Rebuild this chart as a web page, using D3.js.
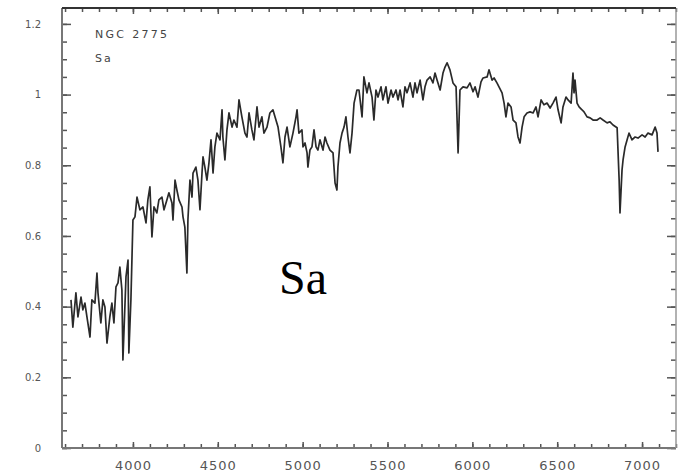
<!DOCTYPE html>
<html>
<head>
<meta charset="utf-8">
<script src="https://cdn.jsdelivr.net/npm/d3@7"></script>
<style>
  html, body { margin: 0; padding: 0; background: #fff; }
  svg { display: block; }
  .tick text { fill: #555; font-family: "DejaVu Sans", sans-serif; }
  .tick line { stroke: #555; stroke-width: 1.5; }
</style>
</head>
<body>
<div id="chart"></div>
<script>
// Spectrum of NGC 2775 (type Sa), flux normalised
const wavelength = [
  3635, 3646, 3664, 3676, 3694, 3705, 3717, 3729, 3747, 3758, 3776, 3788, 3794, 3811, 3823, 3835,
  3847, 3864, 3876, 3888, 3900, 3912, 3923, 3935, 3941, 3959, 3971, 3976, 3988, 4000, 4012, 4024,
  4041, 4059, 4077, 4088, 4100, 4112, 4124, 4141, 4153, 4171, 4183, 4200, 4212, 4230, 4236, 4248,
  4259, 4271, 4289, 4295, 4306, 4318, 4324, 4336, 4348, 4354, 4371, 4383, 4395, 4407, 4413, 4424,
  4436, 4448, 4460, 4472, 4483, 4495, 4513, 4525, 4530, 4542, 4554, 4566, 4584, 4595, 4613, 4625,
  4642, 4660, 4672, 4684, 4701, 4713, 4731, 4743, 4760, 4772, 4790, 4807, 4825, 4837, 4855, 4872,
  4884, 4896, 4908, 4925, 4943, 4961, 4967, 4978, 4996, 5002, 5014, 5026, 5031, 5043, 5055, 5067,
  5079, 5090, 5102, 5120, 5132, 5143, 5161, 5179, 5191, 5202, 5208, 5220, 5232, 5244, 5255, 5267,
  5279, 5291, 5303, 5320, 5332, 5350, 5361, 5379, 5391, 5409, 5420, 5432, 5444, 5462, 5473, 5491,
  5503, 5521, 5532, 5550, 5562, 5574, 5591, 5603, 5615, 5633, 5650, 5662, 5674, 5692, 5709, 5721,
  5733, 5751, 5768, 5780, 5792, 5810, 5827, 5839, 5851, 5868, 5886, 5904, 5916, 5927, 5945, 5969,
  5986, 6004, 6016, 6033, 6051, 6063, 6087, 6098, 6116, 6128, 6145, 6157, 6175, 6187, 6198, 6210,
  6228, 6240, 6257, 6269, 6281, 6293, 6305, 6322, 6340, 6358, 6375, 6387, 6405, 6422, 6440, 6458,
  6475, 6493, 6505, 6523, 6534, 6552, 6564, 6582, 6593, 6599, 6605, 6617, 6629, 6646, 6658, 6676,
  6694, 6711, 6735, 6753, 6770, 6794, 6811, 6829, 6853, 6865, 6870, 6882, 6888, 6900, 6912, 6923,
  6941, 6959, 6976, 7000, 7018, 7035, 7059, 7077, 7088, 7094
];
const flux = [
  0.419, 0.342, 0.439, 0.371, 0.427, 0.391, 0.410, 0.371, 0.314, 0.419, 0.410, 0.495, 0.439, 0.354, 0.419, 0.399,
  0.297, 0.371, 0.410, 0.354, 0.456, 0.467, 0.512, 0.447, 0.249, 0.484, 0.532, 0.269, 0.419, 0.645, 0.654, 0.710,
  0.674, 0.682, 0.637, 0.702, 0.739, 0.597, 0.682, 0.665, 0.702, 0.710, 0.674, 0.702, 0.722, 0.693, 0.645, 0.758,
  0.730, 0.702, 0.682, 0.654, 0.625, 0.495, 0.645, 0.758, 0.710, 0.778, 0.795, 0.758, 0.674, 0.778, 0.824, 0.795,
  0.758, 0.807, 0.872, 0.778, 0.852, 0.891, 0.872, 0.957, 0.880, 0.815, 0.900, 0.948, 0.908, 0.928, 0.908, 0.985,
  0.937, 0.891, 0.880, 0.948, 0.900, 0.872, 0.965, 0.908, 0.937, 0.891, 0.908, 0.948, 0.957, 0.937, 0.908, 0.852,
  0.807, 0.880, 0.908, 0.852, 0.891, 0.937, 0.957, 0.891, 0.900, 0.852, 0.863, 0.835, 0.795, 0.843, 0.852, 0.900,
  0.852, 0.843, 0.872, 0.843, 0.880, 0.863, 0.843, 0.835, 0.750, 0.730, 0.795, 0.863, 0.891, 0.908, 0.937, 0.880,
  0.835, 0.891, 0.976, 1.013, 1.013, 0.937, 1.050, 1.005, 1.033, 0.993, 0.928, 1.013, 0.993, 1.022, 0.985, 1.022,
  0.976, 1.013, 0.993, 1.013, 0.985, 1.013, 0.965, 1.022, 1.005, 1.033, 0.993, 1.033, 1.005, 1.041, 0.985, 1.022,
  1.041, 1.050, 1.033, 1.061, 1.041, 1.013, 1.061, 1.078, 1.090, 1.070, 1.033, 1.022, 0.835, 1.013, 1.022, 1.019,
  1.033, 1.008, 1.022, 0.993, 1.036, 1.047, 1.050, 1.070, 1.041, 1.047, 1.033, 1.022, 1.005, 0.976, 0.937, 0.976,
  0.965, 0.928, 0.920, 0.880, 0.863, 0.908, 0.937, 0.948, 0.951, 0.948, 0.965, 0.937, 0.985, 0.971, 0.976, 0.962,
  0.976, 0.993, 0.957, 0.920, 0.965, 0.993, 0.985, 0.976, 1.061, 1.005, 1.041, 0.976, 0.965, 0.957, 0.951, 0.937,
  0.934, 0.928, 0.928, 0.934, 0.928, 0.920, 0.923, 0.914, 0.906, 0.758, 0.665, 0.787, 0.815, 0.852, 0.872, 0.891,
  0.872, 0.880, 0.877, 0.886, 0.880, 0.891, 0.886, 0.908, 0.891, 0.838
];

// Axis ticks
const xMajor = [4000, 4500, 5000, 5500, 6000, 6500, 7000];
const xMinor = d3.range(3600, 7201, 100);
const yMajor = [0, 0.2, 0.4, 0.6, 0.8, 1, 1.2];
const yMinor = d3.range(0, 1.2001, 0.05);
const yLabels = ['0', '0.2', '0.4', '0.6', '0.8', '1', '1.2'];

const objectName = 'NGC 2775';
const objectType = 'Sa';

function drawChart() {
    const W = 681, H = 475;
    const left = 62, right = 676, top = 8, bottom = 448;

    const svg = d3.select('#chart')
        .append('svg')
        .attr('width', W)
        .attr('height', H);

    const x = d3.scaleLinear().domain([3582, 7200]).range([left, right]);
    const y = d3.scaleLinear().domain([0, 1.245]).range([bottom, top]);

    // minor ticks on all four sides
    svg.append('g')
        .attr('transform', `translate(0,${bottom})`)
        .call(d3.axisBottom(x).tickValues(xMinor).tickSize(-4).tickFormat(''));
    svg.append('g')
        .attr('transform', `translate(0,${top})`)
        .call(d3.axisTop(x).tickValues(xMinor).tickSize(-4).tickFormat(''));
    svg.append('g')
        .attr('transform', `translate(${left},0)`)
        .call(d3.axisLeft(y).tickValues(yMinor).tickSize(-5).tickFormat(''));
    svg.append('g')
        .attr('transform', `translate(${right},0)`)
        .call(d3.axisRight(y).tickValues(yMinor).tickSize(-5).tickFormat(''));

    // major ticks with labels
    svg.append('g')
        .attr('class', 'x-major')
        .attr('transform', `translate(0,${bottom})`)
        .call(d3.axisBottom(x).tickValues(xMajor).tickSize(-6).tickPadding(13).tickFormat(d3.format('d')))
        .selectAll('text')
        .style('font-size', '13px')
        .style('letter-spacing', '1px');
    svg.append('g')
        .attr('transform', `translate(0,${top})`)
        .call(d3.axisTop(x).tickValues(xMajor).tickSize(-6).tickFormat(''));
    svg.append('g')
        .attr('class', 'y-major')
        .attr('transform', `translate(${left},0)`)
        .call(d3.axisLeft(y).tickValues(yMajor).tickSize(-9).tickPadding(21)
            .tickFormat((d, i) => yLabels[i]))
        .selectAll('text')
        .style('font-size', '10px');
    svg.append('g')
        .attr('transform', `translate(${right},0)`)
        .call(d3.axisRight(y).tickValues(yMajor).tickSize(-9).tickFormat(''));

    svg.selectAll('.domain').remove();

    // frame
    svg.append('line').attr('x1', left).attr('x2', left).attr('y1', top).attr('y2', bottom)
        .attr('stroke', '#777').attr('stroke-width', 2);
    svg.append('line').attr('x1', left).attr('x2', right).attr('y1', bottom).attr('y2', bottom)
        .attr('stroke', '#777').attr('stroke-width', 2);
    svg.append('line').attr('x1', right).attr('x2', right).attr('y1', top).attr('y2', bottom)
        .attr('stroke', '#999').attr('stroke-width', 1.5);
    svg.append('line').attr('x1', left).attr('x2', right).attr('y1', top).attr('y2', top)
        .attr('stroke', '#333').attr('stroke-width', 2);

    // spectrum
    const points = wavelength.map((w, i) => [w, flux[i]]);
    const line = d3.line()
        .x(d => x(d[0]))
        .y(d => y(d[1]));
    svg.append('path')
        .datum(points)
        .attr('fill', 'none')
        .attr('stroke', '#2a2a2a')
        .attr('stroke-width', 1.7)
        .attr('stroke-linejoin', 'round')
        .attr('d', line);

    // in-plot labels
    svg.append('text')
        .attr('x', 95).attr('y', 38)
        .style('font-family', '"DejaVu Sans", sans-serif')
        .style('font-size', '11px')
        .style('letter-spacing', '2.3px')
        .style('fill', '#444')
        .text(objectName);
    svg.append('text')
        .attr('x', 95).attr('y', 62)
        .style('font-family', '"DejaVu Sans", sans-serif')
        .style('font-size', '11px')
        .style('letter-spacing', '2px')
        .style('fill', '#444')
        .text(objectType);

    // big overlay caption
    svg.append('text')
        .attr('x', 279).attr('y', 294)
        .style('font-family', '"Liberation Serif", "Times New Roman", serif')
        .style('font-size', '48px')
        .style('fill', '#000')
        .text(objectType);
}

drawChart();
</script>
</body>
</html>
